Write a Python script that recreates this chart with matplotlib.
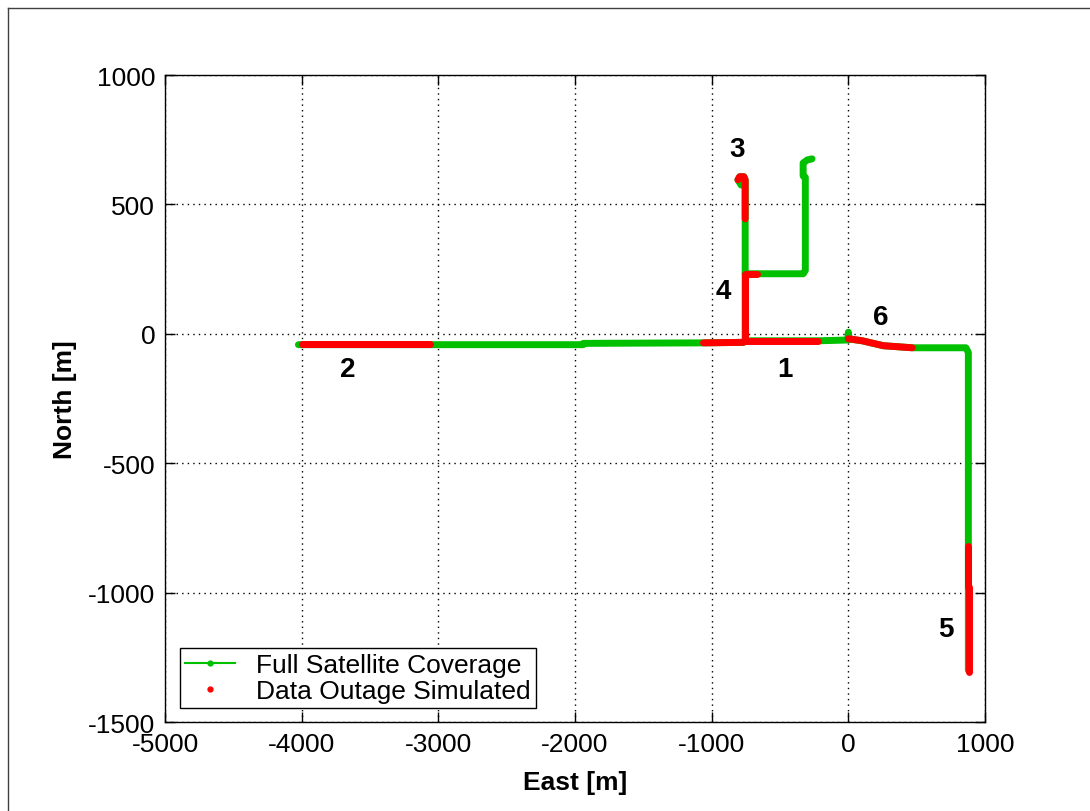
#!/usr/bin/env python3
# -*- coding: utf-8 -*-

import matplotlib
matplotlib.use('Agg')
import matplotlib.pyplot as plt
from matplotlib.lines import Line2D

# --- trajectory pieces (full coverage, green)
main_east = [-4024, -3058, -1940, -1940, -1060, -768, -755, -219, -5, 0, 5, 102, 256, 468, 860, 878, 878]
main_north = [-42, -42, -42, -37, -35, -33, -27, -27, -24, 6, -20, -27, -46, -54, -54, -72, -1300]

branch3_east = [-755, -755, -765, -795, -808, -785]
branch3_north = [-27, 595, 607, 607, 595, 575]

branch_ne_east = [-755, -330, -315, -315, -331, -331, -300, -266]
branch_ne_north = [232, 232, 245, 605, 610, 660, 672, 676]

# --- simulated outages (red)
outages = {
    '1': ([-755, -219], [-27, -27]),
    '2': ([-3995, -3058], [-39, -39]),
    '3': ([-755, -755, -765, -795, -808], [444, 595, 607, 607, 595]),
    '4': ([-670, -755, -755], [232, 232, -27]),
    '5': ([876, 876, 880, 880], [-819, -980, -980, -1306]),
    '6': ([0, 102, 256, 468], [-19, -27, -46, -54]),
    'x': ([-1060, -768], [-35, -33]),
}

# label positions (East, North)
lbl_text = ['1', '2', '3', '4', '5', '6']
lbl_east = [-461, -3665, -812, -914, 717, 234]
lbl_north = [-135, -135, 715, 166, -1140, 66]

green = '#00c000'
red = '#ff0000'

plt.rcParams['font.family'] = ['Liberation Sans', 'DejaVu Sans']
plt.rcParams['axes.unicode_minus'] = False

fig = plt.figure(figsize=(10.9, 8.12), dpi=100)
ax = fig.add_axes([0.1514, 0.1096, 0.7523, 0.7968])

for e, n in [(main_east, main_north), (branch3_east, branch3_north),
             (branch_ne_east, branch_ne_north)]:
    ax.plot(e, n, color=green, lw=5, solid_capstyle='round',
            solid_joinstyle='round', zorder=3)

for key, (e, n) in outages.items():
    ax.plot(e, n, color=red, lw=5, solid_capstyle='round',
            solid_joinstyle='round', zorder=4)

for t, e, n in zip(lbl_text, lbl_east, lbl_north):
    ax.text(e, n, t, fontsize=20, fontweight='bold', ha='center', va='center', zorder=5)

ax.set_xlim(-5000, 1000)
ax.set_ylim(-1500, 1000)
ax.set_xticks([-5000, -4000, -3000, -2000, -1000, 0, 1000])
ax.set_yticks([-1500, -1000, -500, 0, 500, 1000])
ax.grid(True, color='black', linestyle=(0, (1, 3)), lw=1.0)
ax.set_axisbelow(True)
ax.tick_params(direction='in', length=7, width=1, top=True, right=True,
               labelsize=19, pad=7)
for s in ax.spines.values():
    s.set_linewidth(1)

ax.set_xlabel('East [m]', fontsize=19, fontweight='bold', labelpad=10)
ax.set_ylabel('North [m]', fontsize=19, fontweight='bold', labelpad=8)

# --- legend
h1 = Line2D([], [], color=green, lw=1.5, marker='.', markersize=7)
h2 = Line2D([], [], color=red, lw=0, marker='.', markersize=7)
leg = ax.legend([h1, h2], ['Full Satellite Coverage', 'Data Outage Simulated'],
                loc='lower left', bbox_to_anchor=(0.018, 0.0216), borderaxespad=0,
                fontsize=19, fancybox=False, edgecolor='black', framealpha=1,
                handlelength=1.9, handletextpad=0.8, borderpad=0.2, labelspacing=0.05)
leg.get_frame().set_linewidth(1)

# figure border (screenshot edge)
fig.add_artist(Line2D([8 / 1090, 8 / 1090], [0, 1 - 9 / 812], color='#404040', lw=1))
fig.add_artist(Line2D([8 / 1090, 1], [1 - 9 / 812, 1 - 9 / 812], color='#404040', lw=1))

fig.savefig('out.png', dpi=100)
